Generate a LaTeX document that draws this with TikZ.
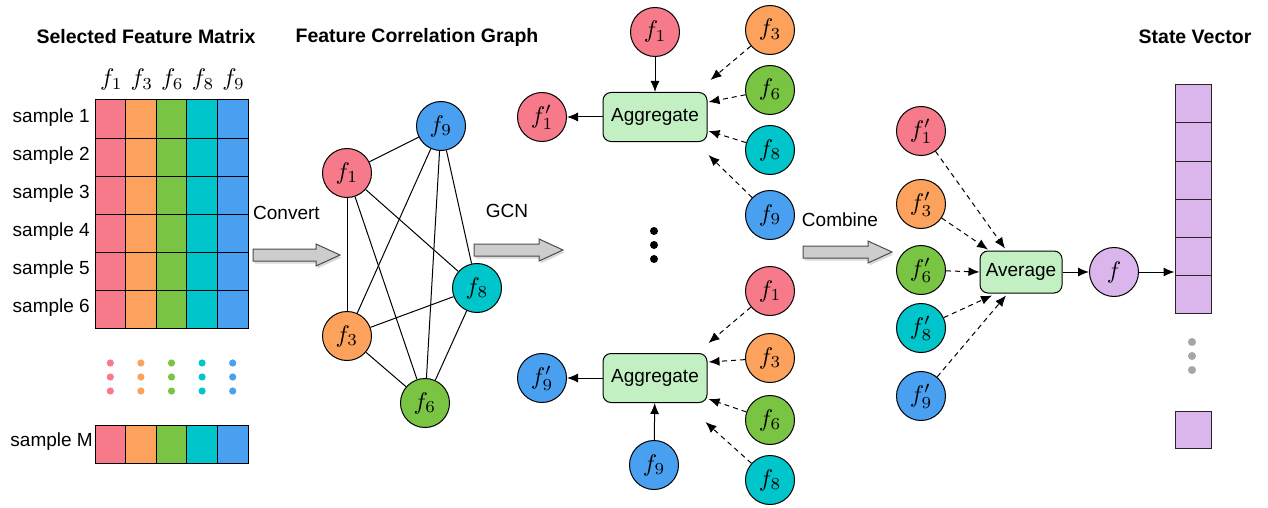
\documentclass[tikz,border=0pt]{standalone}
\usepackage{fontspec}
\setmainfont{Liberation Sans}
\usetikzlibrary{arrows.meta,shadows,calc}
\definecolor{cpink}{RGB}{246,122,138}
\definecolor{corange}{RGB}{253,162,92}
\definecolor{cgreen}{RGB}{122,196,68}
\definecolor{ccyan}{RGB}{0,198,204}
\definecolor{cblue}{RGB}{74,160,240}
\definecolor{cpurple}{RGB}{218,182,236}
\definecolor{cagg}{RGB}{195,240,195}
\definecolor{cblk}{RGB}{205,205,205}
\newcommand\fnode[4]{\node[fn,fill=#3] (#1) at (#2) {}; \node[mt] (#1t) at (#1) {$#4$};}
\newcommand\blkarrow[4]{\filldraw[blk] ({#1},{#3-6}) coordinate (#4) -- ({#2-24},{#3-6}) -- ({#2-24},{#3-11}) -- ({#2},{#3}) -- ({#2-24},{#3+11}) -- ({#2-24},{#3+6}) -- ({#1},{#3+6}) -- cycle;}
\begin{document}
\begin{tikzpicture}[x=1pt,y=-1pt,
  fn/.style={circle,draw=black,line width=1pt,minimum size=49pt,inner sep=0pt},
  mt/.style={scale=2.4,inner sep=0pt,font=\fontsize{10}{12}\selectfont},
  lbl/.style={font=\fontsize{19}{22}\selectfont,inner sep=0pt},
  ttl/.style={font=\fontsize{19.5}{22}\selectfont\bfseries,inner sep=0pt},
  cell/.style={draw=black,line width=1pt,minimum width=30.6pt,minimum height=38pt,inner sep=0pt},
  svcell/.style={draw=black!85,line width=1pt,fill=cpurple,minimum width=36pt,minimum height=38pt,inner sep=0pt},
  aggbox/.style={draw=black,line width=1pt,fill=cagg,rounded corners=8pt,minimum width=104pt,minimum height=49pt,inner sep=0pt,font=\fontsize{19}{22}\selectfont},
  avgbox/.style={draw=black,line width=1pt,fill=cagg,rounded corners=8pt,minimum width=82pt,minimum height=42pt,inner sep=0pt,font=\fontsize{19}{22}\selectfont},
  edge/.style={line width=1pt,draw=black},
  sarr/.style={line width=1pt,-{Latex[length=11pt,width=9pt]}},
  darr/.style={line width=1pt,dash pattern=on 5pt off 4pt,-{Latex[length=11pt,width=9pt]}},
  blk/.style={fill=cblk,draw=black!70,line width=1pt,drop shadow={opacity=0.3,shadow xshift=1.5pt,shadow yshift=-2.5pt}},
]
\useasboundingbox (0,0) rectangle (1268,508);

% titles
\node[ttl] (t1) at (146,37) {Selected Feature Matrix};
\node[ttl] (t2) at (417,37) {Feature Correlation Graph};
\node[ttl] (t3) at (1195,37) {State Vector};

% matrix
\foreach \c/\col/\lab [count=\i from 0] in {cpink/f1/1,corange/f3/3,cgreen/f6/6,ccyan/f8/8,cblue/f9/9}{
  \node[mt] (h\lab) at ({111.3+30.6*\i},80) {$f_{\lab}$};
  \foreach \r in {0,...,5}{
    \node[cell,fill=\c] (m\lab r\r) at ({110.3+30.6*\i},{119+38*\r}) {};
  }
  \node[cell,fill=\c] (m\lab rM) at ({110.3+30.6*\i},444) {};
  \foreach \dy in {0,14,28}{
    \fill[\c] ({110.3+30.6*\i},{363+\dy}) circle (3.6pt);
  }
}
\foreach \r [count=\k from 1] in {0,...,5}{
  \node[lbl,anchor=east] (s\k) at (90,{118+38*\r}) {sample \k};
}
\node[lbl,anchor=east] (sM) at (93,442) {sample M};

% convert arrow
\blkarrow{253}{340}{255}{ca}
\node[lbl,anchor=west] (conv) at (253,213) {Convert};

% graph
\fnode{g9}{441,126}{cblue}{f_9}
\fnode{g1}{347,173}{cpink}{f_1}
\fnode{g8}{477,288}{ccyan}{f_8}
\fnode{g3}{347,336}{corange}{f_3}
\fnode{g6}{425,403}{cgreen}{f_6}
\foreach \a/\b in {g1/g9,g1/g3,g1/g6,g1/g8,g9/g3,g9/g6,g9/g8,g3/g8,g3/g6,g8/g6}{
  \draw[edge] (\a) -- (\b);
}

% GCN arrow
\blkarrow{474}{563}{250}{ga}
\node[lbl] (gcn) at (507,211) {GCN};

% upper aggregate
\node[aggbox] (aggU) at (655,117) {Aggregate};
\fnode{uf1}{655,32}{cpink}{f_1}
\fnode{uf1p}{542,117}{cpink}{f^{\prime}_1}
\fnode{uf3}{770,30}{corange}{f_3}
\fnode{uf6}{770,90}{cgreen}{f_6}
\fnode{uf8}{770,150}{ccyan}{f_8}
\fnode{uf9}{770,215}{cblue}{f_9}
\draw[sarr] (uf1) -- (aggU);
\draw[sarr] (aggU) -- (uf1p);
\draw[darr] (uf3) -- ($(aggU.east)+(3,-37)$);
\draw[darr] (uf6) -- ($(aggU.east)+(1,-15)$);
\draw[darr] (uf8) -- ($(aggU.east)+(1,14)$);
\draw[darr] (uf9) -- ($(aggU.east)+(1,38)$);

% middle dots
\foreach \y in {231,245,259}{\fill (654,\y) circle (4pt);}

% lower aggregate
\node[aggbox] (aggL) at (655,378) {Aggregate};
\fnode{lf9}{654,465}{cblue}{f_9}
\fnode{lf9p}{542,378}{cblue}{f^{\prime}_9}
\fnode{lf1}{770,291}{cpink}{f_1}
\fnode{lf3}{770,358}{corange}{f_3}
\fnode{lf6}{770,420}{cgreen}{f_6}
\fnode{lf8}{770,480}{ccyan}{f_8}
\draw[sarr] (lf9) -- (aggL);
\draw[sarr] (aggL) -- (lf9p);
\draw[darr] (lf1) -- ($(aggL.east)+(1,-35)$);
\draw[darr] (lf3) -- ($(aggL.east)+(1,-16)$);
\draw[darr] (lf6) -- ($(aggL.east)+(1,21)$);
\draw[darr] (lf8) -- ($(aggL.east)+(-2,44)$);

% combine arrow
\blkarrow{803}{892}{252}{cba}
\node[lbl] (comb) at (840,220) {Combine};

% average
\node[avgbox] (avg) at (1021,272) {Average};
\fnode{a1}{921,131}{cpink}{f^{\prime}_1}
\fnode{a3}{921,204}{corange}{f^{\prime}_3}
\fnode{a6}{921,270}{cgreen}{f^{\prime}_6}
\fnode{a8}{921,328}{ccyan}{f^{\prime}_8}
\fnode{a9}{921,396}{cblue}{f^{\prime}_9}
\draw[darr] (a1) -- ($(avg.north)+(-16,-2)$);
\draw[darr] (a3) -- ($(avg.north)+(-33,-1)$);
\draw[darr] (a6) -- (avg.west);
\draw[darr] (a8) -- ($(avg.south)+(-29,2)$);
\draw[darr] (a9) -- ($(avg.south)+(-15,2)$);
\fnode{ff}{1114,272}{cpurple}{f}
\draw[sarr] (avg) -- (ff);

% state vector
\foreach \r [count=\k from 1] in {0,...,5}{
  \node[svcell] (sv\k) at (1193,{104+38*\r}) {};
}
\node[svcell,minimum height=37pt] (svN) at (1193,429.5) {};
\foreach \y in {342,356,370}{\fill[black!35] (1192,\y) circle (4pt);}
\draw[sarr] (ff) -- (ff -| sv6.west);
\end{tikzpicture}
\end{document}
